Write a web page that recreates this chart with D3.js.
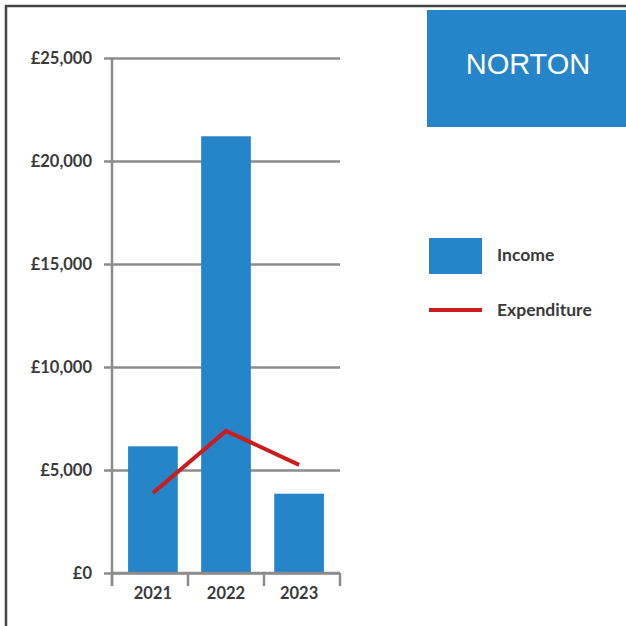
<!DOCTYPE html>
<html><head><meta charset="utf-8">
<script src="https://cdn.jsdelivr.net/npm/d3@7"></script>
<style>html,body{margin:0;padding:0;background:#fff;overflow:hidden}</style>
</head><body>
<svg id="c" width="626" height="626"></svg>
<script>
const years = ["2021", "2022", "2023"];
const income = [6150, 21200, 3850];
const expenditure = [3880, 6900, 5250];
const yTicks = [0, 5000, 10000, 15000, 20000, 25000];
const title = "NORTON";
const legendLabels = ["Income", "Expenditure"];

const svg = d3.select("#c");
const blue = "#2585c8", red = "#cc1c1c", grid = "#8c8c8c", txt = "#3a3a3a";
const font = "Lato, 'Open Sans', sans-serif";

// frame
svg.append("path").attr("d", "M6,640 L6,6 L640,6").attr("fill", "none")
  .attr("stroke", "#444").attr("stroke-width", 2.5);

const x = d3.scaleBand().domain(years).range([112, 340]).paddingInner(0.32).paddingOuter(0.22);
const y = d3.scaleLinear().domain([0, 25000]).range([573, 58]);

// gridlines + y labels
const ya = svg.append("g").attr("transform", "translate(340,0)")
  .call(d3.axisLeft(y).tickValues(yTicks).tickSize(236).tickPadding(12)
    .tickFormat(d => "£" + d3.format(",")(d)));
ya.select(".domain").remove();
ya.selectAll(".tick line").attr("stroke", grid).attr("stroke-width", 2.5);
ya.selectAll(".tick text").attr("fill", txt).attr("font-family", font)
  .attr("font-weight", "bold").attr("font-size", 16.5);

// y axis line
svg.append("line").attr("x1", 112).attr("x2", 112).attr("y1", y(25000)).attr("y2", 586)
  .attr("stroke", grid).attr("stroke-width", 2.5);

// bars
svg.append("g").selectAll("rect").data(years).join("rect")
  .attr("x", d => x(d)).attr("width", x.bandwidth())
  .attr("y", (d, i) => y(income[i])).attr("height", (d, i) => y(0) - y(income[i]))
  .attr("fill", blue);

// x axis
const xa = svg.append("g").attr("transform", `translate(0,${y(0)})`)
  .call(d3.axisBottom(x).tickSize(0).tickPadding(14));
xa.select(".domain").attr("stroke", grid).attr("stroke-width", 2.5).attr("d", "M112,0H340");
xa.selectAll(".tick text").attr("fill", txt).attr("font-family", font)
  .attr("font-weight", "bold").attr("font-size", 16.5);
const bounds = [112].concat(years.map((d, i) => 112 + (i + 1) * (340 - 112) / years.length));
svg.append("g").selectAll("line").data(bounds).join("line")
  .attr("x1", d => d).attr("x2", d => d).attr("y1", y(0)).attr("y2", y(0) + 13)
  .attr("stroke", grid).attr("stroke-width", 2.5);

// expenditure line
svg.append("path").datum(expenditure)
  .attr("d", d3.line().x((d, i) => x(years[i]) + x.bandwidth() / 2).y(d => y(d)))
  .attr("fill", "none").attr("stroke", red).attr("stroke-width", 4);

// title box
svg.append("rect").attr("x", 427).attr("y", 10).attr("width", 199).attr("height", 117).attr("fill", blue);
svg.append("text").attr("x", 528).attr("y", 74).attr("text-anchor", "middle")
  .attr("fill", "#fff").attr("font-family", "'Liberation Sans', Arial, sans-serif")
  .attr("font-size", 29).text(title);

// legend
svg.append("rect").attr("x", 429).attr("y", 238).attr("width", 53).attr("height", 36).attr("fill", blue);
svg.append("line").attr("x1", 429).attr("x2", 482).attr("y1", 310).attr("y2", 310)
  .attr("stroke", red).attr("stroke-width", 4);
svg.append("g").selectAll("text").data(legendLabels).join("text")
  .attr("x", 497).attr("y", (d, i) => i === 0 ? 261 : 316)
  .attr("fill", txt).attr("font-family", font).attr("font-weight", "bold")
  .attr("font-size", 17.5).text(d => d);
</script>
</body></html>
